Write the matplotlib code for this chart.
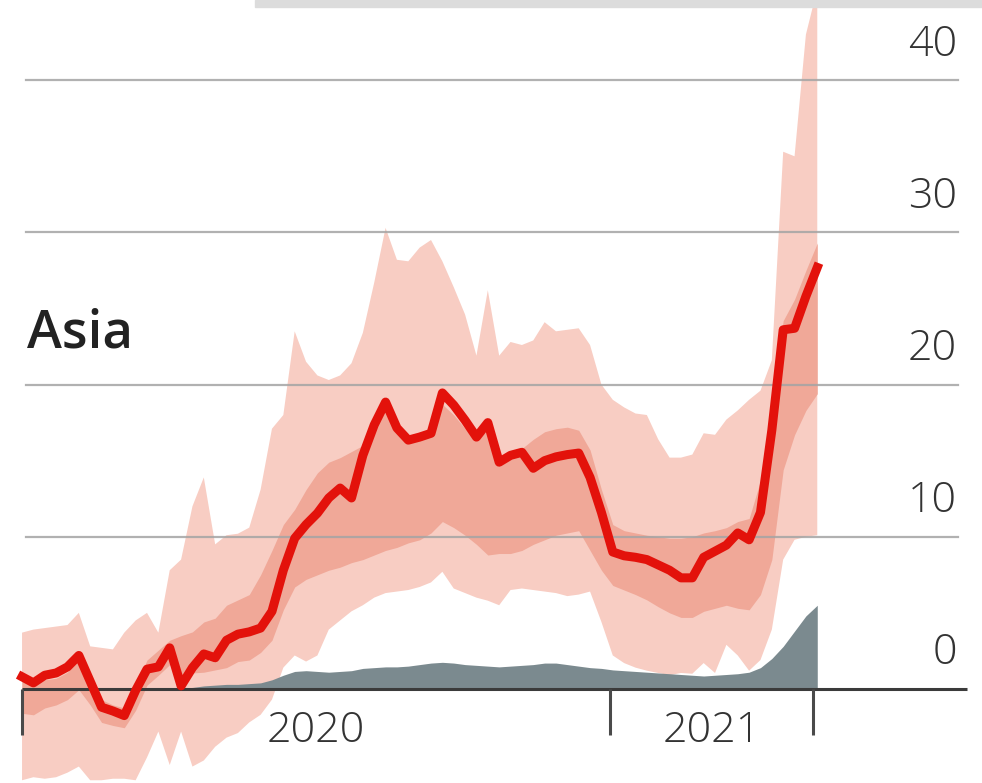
import numpy as np
import matplotlib.pyplot as plt
from matplotlib.patches import Rectangle

# weekly excess deaths, Asia (per 100k people), weeks counted from the start of 2020
weeks = np.arange(71)

excess = [0.8, 0.4, 0.9, 1.05, 1.45, 2.2, 0.5, -1.2, -1.45, -1.75,
          -0.1, 1.3, 1.45, 2.7, 0.2, 1.4, 2.3, 2.05, 3.2, 3.6,
          3.75, 4.0, 5.1, 7.8, 9.9, 10.8, 11.55, 12.55, 13.2, 12.55,
          15.35, 17.35, 18.85, 17.15, 16.35, 16.55, 16.8, 19.45, 18.65, 17.65,
          16.55, 17.5, 14.9, 15.35, 15.55, 14.5, 15.0, 15.25, 15.4, 15.5,
          13.9, 11.6, 9.0, 8.75, 8.65, 8.5, 8.15, 7.8, 7.3, 7.3,
          8.65, 9.05, 9.45, 10.25, 9.8, 11.6, 17.0, 23.6, 23.7, 25.8,
          27.7]

# 95% interval
wide_hi = [3.7, 3.9, 4.0, 4.1, 4.2, 5.0, 2.8, 2.7, 2.6, 3.7,
           4.5, 5.0, 3.7, 7.8, 8.5, 12.0, 13.9, 9.5, 10.1, 10.2,
           10.6, 13.1, 17.1, 18.0, 23.5, 21.5, 20.6, 20.3, 20.6, 21.4,
           23.4, 26.7, 30.3, 28.2, 28.1, 29.0, 29.5, 28.1, 26.4, 24.6,
           21.9, 26.2, 21.9, 22.8, 22.6, 22.9, 24.1, 23.5, 23.6, 23.7,
           22.6, 20.0, 19.0, 18.5, 18.1, 18.0, 16.4, 15.2, 15.2, 15.4,
           16.8, 16.7, 17.7, 18.3, 19.0, 19.6, 21.6, 35.3, 35.0, 43.0,
           46.0]
wide_lo = [-6.0, -5.8, -5.9, -5.8, -5.5, -5.1, -6.0, -6.0, -5.9, -5.9,
           -6.0, -4.5, -2.8, -5.0, -2.8, -5.1, -4.7, -3.8, -3.2, -2.9,
           -2.2, -1.7, -0.7, 1.4, 2.2, 1.8, 2.2, 3.9, 4.5, 5.1,
           5.5, 6.0, 6.3, 6.4, 6.5, 6.7, 7.0, 7.7, 6.6, 6.3,
           6.0, 5.8, 5.5, 6.5, 6.6, 6.5, 6.4, 6.3, 6.1, 6.2,
           6.4, 4.4, 2.2, 1.7, 1.4, 1.2, 1.05, 0.9, 1.05, 1.0,
           1.7, 1.05, 2.9, 2.2, 1.2, 1.9, 3.9, 8.5, 9.8, 10.0,
           10.1]

# 50% interval
mid_hi = [0.6, 0.4, 0.6, 0.7, 1.1, 2.0, 0.6, -0.7, -1.05, -1.25,
          0.25, 1.9, 2.55, 3.2, 3.5, 3.75, 4.4, 4.65, 5.5, 5.85,
          6.2, 7.5, 9.1, 10.8, 11.8, 13.1, 14.2, 14.9, 15.2, 15.6,
          16.0, 17.0, 18.3, 16.9, 16.2, 16.4, 16.6, 18.7, 18.0, 17.1,
          16.4, 17.0, 14.9, 15.4, 15.8, 16.4, 16.9, 17.1, 17.2, 17.0,
          15.7, 13.1, 10.8, 10.4, 10.25, 10.1, 10.0, 9.9, 9.9, 10.0,
          10.25, 10.4, 10.6, 11.0, 11.2, 13.7, 19.0, 24.2, 25.6, 27.5,
          29.3]
mid_lo = [-1.6, -1.7, -1.25, -1.05, -0.7, -0.05, -1.05, -2.2, -2.4, -2.55,
          -1.4, 0.25, 0.9, 1.6, 0.6, 1.05, 1.1, 1.25, 1.4, 1.8,
          1.9, 2.4, 3.2, 5.2, 6.7, 7.2, 7.5, 7.8, 8.0, 8.3,
          8.5, 8.8, 9.1, 9.3, 9.6, 9.8, 10.25, 11.0, 10.6, 10.1,
          9.5, 8.8, 8.9, 8.9, 9.1, 9.5, 9.8, 10.1, 10.25, 10.4,
          9.1, 7.8, 6.8, 6.5, 6.2, 5.85, 5.4, 5.0, 4.7, 4.7,
          5.1, 5.3, 5.5, 5.3, 5.2, 6.2, 8.5, 14.4, 16.7, 18.3,
          19.4]

# official covid-19 deaths
covid = [0, 0, 0, 0, 0, 0, 0, 0, 0, 0,
         0, 0, 0, 0.02, 0.05, 0.1, 0.2, 0.25, 0.3, 0.3,
         0.35, 0.4, 0.6, 0.9, 1.15, 1.2, 1.15, 1.1, 1.15, 1.2,
         1.35, 1.4, 1.45, 1.45, 1.5, 1.6, 1.7, 1.75, 1.7, 1.6,
         1.55, 1.5, 1.45, 1.5, 1.55, 1.6, 1.7, 1.7, 1.6, 1.5,
         1.4, 1.35, 1.25, 1.2, 1.15, 1.1, 1.05, 1.0, 0.95, 0.9,
         0.85, 0.9, 0.95, 1.0, 1.1, 1.4, 2.0, 2.8, 3.8, 4.8,
         5.5]

yticks = [0, 10, 20, 30, 40]
year_ticks = [0, 51.76, 69.6]
year_labels = ["2020", "2021"]

plt.rcParams['font.family'] = ['Open Sans', 'DejaVu Sans']

fig = plt.figure(figsize=(9.82, 7.83), dpi=100)
ax = fig.add_axes([0, 0, 1, 1])
ax.set_xlim(-1.94, 84.5)
ax.set_ylim(-6.18, 45.27)
ax.axis('off')

ax.fill_between(weeks, wide_lo, wide_hi, color='#f8cdc3', lw=0, zorder=1)
ax.fill_between(weeks, mid_lo, mid_hi, color='#f0a898', lw=0, zorder=1.5)

# gridlines sit over the bands
for t in yticks[1:]:
    ax.plot([0.35, 82.4], [t, t], color='#a4a4a4', lw=1.6, alpha=0.85, zorder=2)

ax.fill_between(weeks, 0, covid, color='#7b8a8f', lw=0, zorder=3)
ax.plot([0, 83.2], [0, 0], color='#3b3b3b', lw=2.2, zorder=4, solid_capstyle='butt')

for x in year_ticks:
    ax.plot([x, x], [0, -3.0], color='#4a4a4a', lw=2.2, zorder=4, solid_capstyle='butt')

ax.plot(weeks, excess, color='#e3120b', lw=6.5, zorder=5, solid_joinstyle='round')

for t in yticks:
    ax.text(82.3, t + 2.35, str(t), ha='right', va='center',
            fontsize=31, color='#333333', fontweight='light')

for i, lab in enumerate(year_labels):
    xc = (year_ticks[i] + year_ticks[i + 1]) / 2
    ax.text(xc, -2.75, lab, ha='center', va='center',
            fontsize=31, color='#333333', fontweight='light')

ax.text(0.45, 23.35, "Asia", ha='left', va='center', fontsize=38,
        color='#222222', fontweight='semibold')

# strip left over from the panel above
fig.patches.append(Rectangle((255 / 982, 1 - 7 / 783), 727 / 982, 7 / 783,
                             transform=fig.transFigure, color='#dcdcdc', zorder=0))

fig.savefig('out.png', dpi=100)
